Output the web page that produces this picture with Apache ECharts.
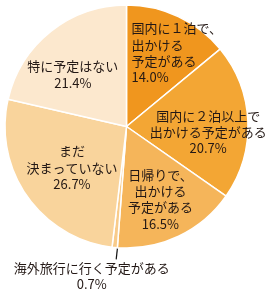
<!DOCTYPE html>
<html><head><meta charset="utf-8">
<script src="https://cdn.jsdelivr.net/npm/echarts@6/dist/echarts.min.js"></script>
<style>html,body{margin:0;padding:0;background:#fff}#c{width:270px;height:295px}</style>
</head><body><div id="c"></div>
<script>
const categories = [
  '国内に１泊で、\n出かける\n予定がある',
  '国内に２泊以上で\n出かける予定がある',
  '日帰りで、\n出かける\n予定がある',
  '海外旅行に行く予定がある',
  'まだ\n決まっていない',
  '特に予定はない'
];
const values = [14.0, 20.7, 16.5, 0.7, 26.7, 21.4];
const colors = ['#F0961E', '#F3A634', '#F5B55A', '#F8CB8A', '#F9D49C', '#FCE8CE'];
// label box paddings (layout only): [top, right, bottom, left]
const labelPads = [[4, 0, 0, 29], [18, 4, 0, 0], [0, 4, 6, 0], null, [0, 0, 14, 28], [27, 3, 0, 0]];

const FONT = '"Noto Sans CJK JP", "Noto Sans", sans-serif';
const FS = 13;
const LH = 16.3;
const CENTER = [126.5, 126.5];
const R = 121.5;

function fmtLabel(p) {
  const lines = p.name.split('\n');
  const pct = p.value.toFixed(1) + '%';
  if (p.dataIndex === 0) {
    return lines.concat([pct]).map(l => '{l|' + l + '}').join('\n');
  }
  return lines.concat([pct]).join('\n');
}

const chart = echarts.init(document.getElementById('c'), null, {renderer: 'canvas'});
chart.setOption({
  animation: false,
  series: [
    {
      type: 'pie',
      center: CENTER,
      radius: [0, R],
      startAngle: 90,
      clockwise: true,
      silent: true,
      itemStyle: {borderColor: '#fff', borderWidth: 1.5},
      data: categories.map((c, i) => ({
        name: c,
        value: values[i],
        itemStyle: {color: colors[i]},
        label: {show: i === 3},
        labelLine: {show: i === 3}
      })),
      label: {
        position: 'outside',
        overflow: 'none',
        fontFamily: FONT,
        fontSize: FS,
        lineHeight: LH,
        color: '#231815',
        formatter: fmtLabel
      },
      labelLine: {length: 10, length2: 0, lineStyle: {color: '#111', width: 1.2}},
      labelLayout: function (params) {
        if (params.dataIndex !== 3) return {hideOverlap: false};
        const p0 = params.labelLinePoints ? params.labelLinePoints[0] : [113, 247];
        return {
          hideOverlap: false,
          x: p0[0] - 23,
          y: p0[1] + 12,
          align: 'center',
          verticalAlign: 'top',
          labelLinePoints: [[p0[0] + 3.5, p0[1] - 6], [p0[0] + 1.5, p0[1] + 12]]
        };
      }
    },
    {
      type: 'pie',
      center: CENTER,
      radius: [40, R],
      startAngle: 90,
      clockwise: true,
      silent: true,
      itemStyle: {color: 'rgba(0,0,0,0)', borderWidth: 0},
      data: categories.map((c, i) => ({
        name: c,
        value: values[i],
        label: i === 3 ? {show: false} : {show: true, padding: labelPads[i]}
      })),
      label: {
        position: 'inside',
        fontFamily: FONT,
        fontSize: FS,
        lineHeight: LH,
        color: '#231815',
        formatter: fmtLabel,
        rich: {l: {align: 'left', fontFamily: FONT, fontSize: FS, lineHeight: LH, color: '#231815'}}
      },
      labelLayout: {hideOverlap: false},
      labelLine: {show: false}
    }
  ]
});
</script>
</body></html>
